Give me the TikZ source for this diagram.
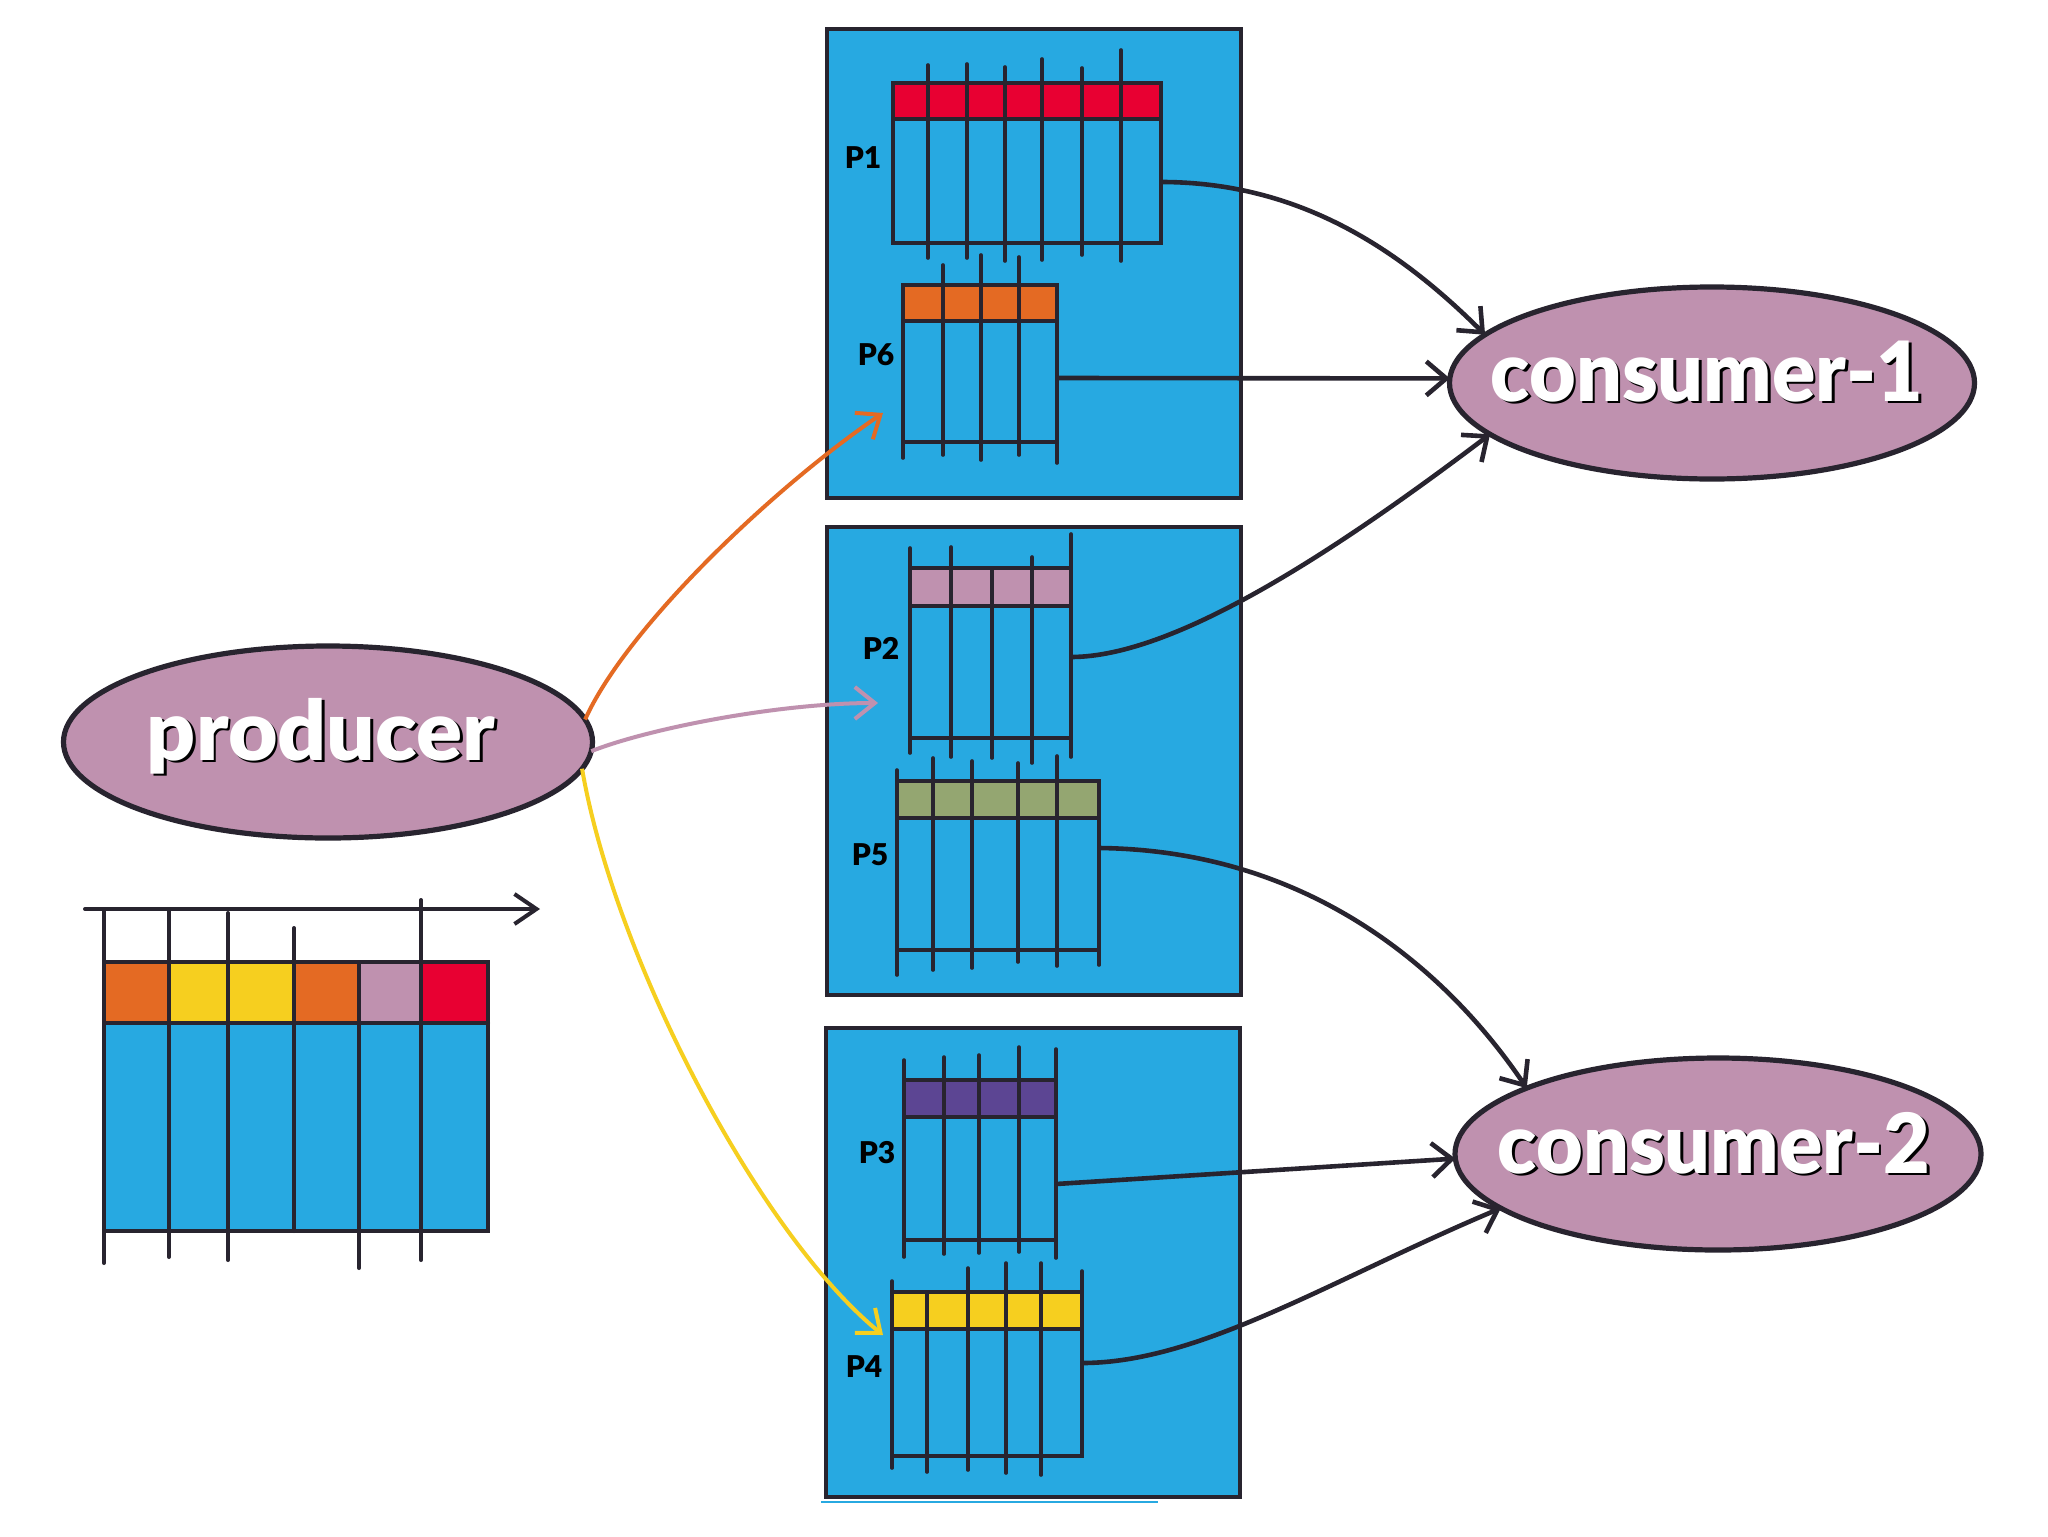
\documentclass[tikz,border=0pt]{standalone}
\usepackage{fontspec}
\setmainfont{Liberation Sans}
\newfontfamily\latofont{Lato}[BoldFont={Lato Black}]
\usetikzlibrary{arrows.meta,shapes.geometric}
\definecolor{kblue}{HTML}{27A9E1}
\definecolor{kdark}{HTML}{28242F}
\definecolor{kmauve}{HTML}{BF91AF}
\definecolor{kred}{HTML}{E80032}
\definecolor{korange}{HTML}{E46A23}
\definecolor{kyellow}{HTML}{F6CF1F}
\definecolor{kgreen}{HTML}{94A671}
\definecolor{kpurple}{HTML}{5C4593}
\tikzset{
  partbox/.style={draw=kdark, fill=kblue, line width=2.4pt, anchor=north west, inner sep=0pt, outer sep=0pt, rectangle},
  qline/.style={draw=kdark, line width=1.8pt, line cap=round},
  lline/.style={draw=kdark, line width=2pt, line cap=round},
  oval/.style={ellipse, draw=kdark, fill=kmauve, line width=2.6pt, inner sep=0pt, outer sep=0pt},
  ovaltxt/.style={font=\latofont\bfseries\fontsize{41.5}{42}\selectfont, text=white, anchor=base, inner sep=0pt},
  ovalshadow/.style={ovaltxt, text=black},
  plabel/.style={font=\latofont\bfseries\fontsize{15}{15}\selectfont, text=black, inner sep=0pt},
  conn/.style={draw=kdark, line width=2.3pt, -{Straight Barb[length=10pt,width=17pt]}},
  feed/.style={line width=2pt, -{Straight Barb[length=10pt,width=16pt]}},
}
\newcommand\kafkaqueue[6]{%
  \fill[kblue] (#1,#3) rectangle (#2,#5);
  \fill[#6] (#1,#3) rectangle (#2,#4);
  \draw[qline] (#1,#3) rectangle (#2,#5) (#1,#4) -- (#2,#4);}
\begin{document}
\begin{tikzpicture}[x=0.5pt,y=-0.5pt]
\fill[white] (0,0) rectangle (2048,1536);
\useasboundingbox (0,0) rectangle (2048,1536);

% partition boxes
\node[partbox, minimum width=207pt, minimum height=234.5pt] (box1) at (827,29) {};
\node[partbox, minimum width=207pt, minimum height=234pt] (box2) at (827,527) {};
\node[partbox, minimum width=207pt, minimum height=234.5pt] (box3) at (826,1028) {};
\draw[kblue, line width=0.8pt] (821,1502) -- (1158,1502);

% P1
\kafkaqueue{893}{1161}{83}{119}{243}{kred}
\foreach \x/\a/\b in {928/65/258, 967/64/258, 1005/67/261, 1042/59/260, 1082/68/255, 1121/50/261}
  \draw[qline] (\x,\a) -- (\x,\b);
% P6
\kafkaqueue{903}{1057}{285}{321}{442}{korange}
\foreach \x/\a/\b in {943/265/455, 981/255/460, 1019/257/455, 903/285/458, 1057/285/463}
  \draw[qline] (\x,\a) -- (\x,\b);
% P2
\kafkaqueue{910}{1071}{568}{606}{738}{kmauve}
\foreach \x/\a/\b in {951/547/757, 992/568/758, 1032/557/763, 910/548/753, 1071/534/757}
  \draw[qline] (\x,\a) -- (\x,\b);
% P5
\kafkaqueue{897}{1099}{781}{818}{950}{kgreen}
\foreach \x/\a/\b in {933/758/970, 972/761/968, 1018/763/962, 1057/756/966, 897/770/975, 1099/781/965}
  \draw[qline] (\x,\a) -- (\x,\b);
% P3
\kafkaqueue{904}{1056}{1080}{1117}{1240}{kpurple}
\foreach \x/\a/\b in {944/1057/1254, 979/1055/1253, 1019/1047/1252, 904/1060/1257, 1056/1049/1258}
  \draw[qline] (\x,\a) -- (\x,\b);
% P4
\kafkaqueue{892}{1082}{1292}{1329}{1456}{kyellow}
\foreach \x/\a/\b in {927/1292/1472, 968/1268/1470, 1006/1263/1473, 1041/1263/1475, 892/1281/1468, 1082/1271/1456}
  \draw[qline] (\x,\a) -- (\x,\b);

% partition labels
\node[plabel] (l1) at (863,158) {P1};
\node[plabel] (l6) at (876,355) {P6};
\node[plabel] (l2) at (881,648) {P2};
\node[plabel] (l5) at (870,855) {P5};
\node[plabel] (l3) at (877,1153) {P3};
\node[plabel] (l4) at (864,1367) {P4};

% legend log
\fill[kblue] (104,962) rectangle (488,1231);
\fill[korange] (104,962) rectangle (169,1023);
\fill[kyellow] (169,962) rectangle (294,1023);
\fill[korange] (294,962) rectangle (359,1023);
\fill[kmauve] (359,962) rectangle (421,1023);
\fill[kred] (421,962) rectangle (488,1023);
\draw[lline] (104,962) -- (488,962) -- (488,1231) -- (104,1231);
\draw[lline] (104,1023) -- (488,1023);
\foreach \x/\a/\b in {104/909/1263, 169/909/1257, 228/913/1260, 294/928/1231, 359/962/1268, 421/900/1260}
  \draw[lline] (\x,\a) -- (\x,\b);
\coordinate (axisL) at (85,909);
\coordinate (axisR) at (540,909);
\draw[lline, -{Straight Barb[length=11pt,width=15pt]}] (axisL) -- (axisR);

% ellipses
\node[oval, minimum width=264.5pt, minimum height=96pt] (prod) at (328,742) {};
\node[oval, minimum width=262.5pt, minimum height=96pt] (c1) at (1712,383) {};
\node[oval, minimum width=263pt, minimum height=96pt] (c2) at (1718,1154) {};
\node[ovalshadow] (prodS) at (323.5,762.5) {\scalebox{1.03}[1]{producer}};
\node[ovaltxt] (prodT) at (321,760) {\scalebox{1.03}[1]{producer}};
\node[ovalshadow] (c1S) at (1709.5,403.5) {\scalebox{0.97}[1]{consumer-1}};
\node[ovaltxt] (c1T) at (1707,401) {\scalebox{0.97}[1]{consumer-1}};
\node[ovalshadow] (c2S) at (1716.5,1175.5) {\scalebox{0.97}[1]{consumer-2}};
\node[ovaltxt] (c2T) at (1714,1173) {\scalebox{0.97}[1]{consumer-2}};

% queue outputs
\coordinate (q1out) at (1161,182);
\coordinate (q6out) at (1057,378);
\coordinate (q2out) at (1071,657);
\coordinate (q5out) at (1099,848);
\coordinate (q3out) at (1056,1184);
\coordinate (q4out) at (1082,1363);
\draw[conn] (q1out) .. controls (1300,182) and (1400,250) .. (c1.168);
\draw[conn] (q6out) -- (c1.179);
\draw[conn] (q2out) .. controls (1180,657) and (1350,540) .. (c1.193);
\draw[conn] (q5out) .. controls (1300,850) and (1440,960) .. (c2.161);
\draw[conn] (q3out) -- (c2.181);
\draw[conn] (q4out) .. controls (1200,1363) and (1330,1280) .. (c2.194);

% producer feeds
\coordinate (inP6) at (883,413);
\coordinate (inP2) at (878,703);
\coordinate (inP4) at (883,1335);
\draw[feed, draw=korange] (prod.5.5) .. controls (625,630) and (770,490) .. (inP6);
\draw[feed, draw=kmauve] (prod.-2) .. controls (650,728) and (780,703) .. (inP2);
\draw[feed, draw=kyellow] (prod.-6) .. controls (615,960) and (760,1235) .. (inP4);
\end{tikzpicture}
\end{document}
